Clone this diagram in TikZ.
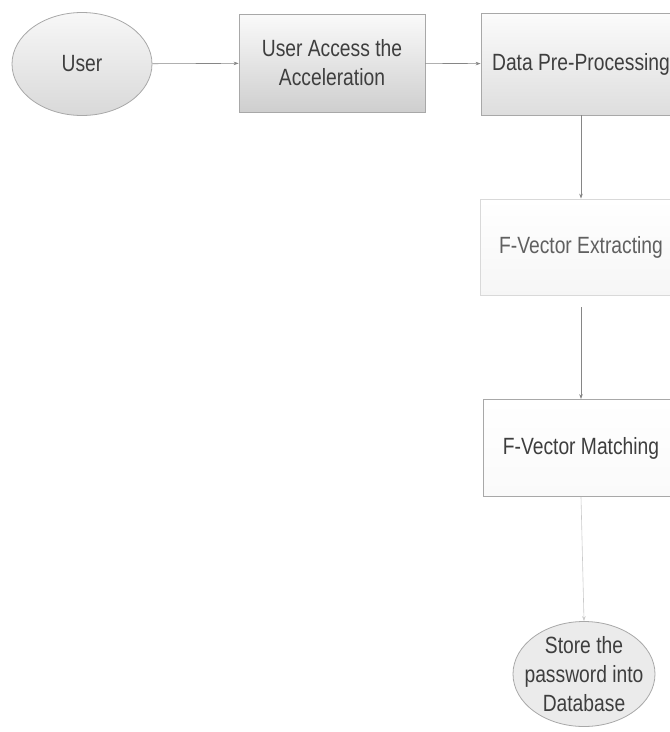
\documentclass[tikz,border=0pt]{standalone}
\usepackage{fontspec}
\setmainfont[FakeStretch=0.82]{Liberation Sans}
\usetikzlibrary{shapes.geometric,arrows.meta}
\definecolor{txt}{HTML}{3E3E3E}
\definecolor{edge}{HTML}{A8A8A8}
\tikzset{
  base/.style={draw=edge, line width=0.8pt, inner sep=0pt, align=center, text=txt},
  roundbox/.style={base, ellipse},
  procbox/.style={base, rectangle},
  conn/.style={draw=edge!80!black, line width=0.6pt, -{Stealth[length=5pt,width=3.5pt]}}
}
\begin{document}
\begin{tikzpicture}[x=1pt,y=-1pt,font=\fontsize{23.5}{29}\selectfont]
\useasboundingbox (0,0) rectangle (670,732);
\node[roundbox, minimum width=140pt, minimum height=103pt, top color=gray!6, bottom color=gray!30] (user) at (82,64) {User};
\node[procbox, minimum width=186pt, minimum height=98pt, top color=gray!4, bottom color=gray!38] (access) at (332,63) {User Access the\\Acceleration};
\node[procbox, minimum width=200pt, minimum height=102pt, top color=gray!3, bottom color=gray!26] (pre) at (581,64) {Data Pre-Processing};
\node[procbox, draw=gray!30, minimum width=202pt, minimum height=96pt, top color=white, bottom color=gray!7, text=gray!75!black] (extract) at (581,247) {F-Vector Extracting};
\node[procbox, minimum width=196pt, minimum height=97pt, top color=white, middle color=gray!26, bottom color=gray!4] (match) at (581,448) {F-Vector Matching};
\node[roundbox, minimum width=142pt, minimum height=105pt, fill=gray!16] (store) at (584,674) {};
\node[text=txt, align=center, inner sep=0pt] (storetext) at (store.center) {Store the\\password into\\Database};
\draw[conn] (user) -- (access);
\draw[conn] (access) -- (pre);
\draw[conn] (pre) -- (extract);
\draw[conn, shorten <=12pt] (extract) -- (match);
\draw[conn, draw=edge!60] (match.south) -- (store.north);
\end{tikzpicture}
\end{document}
